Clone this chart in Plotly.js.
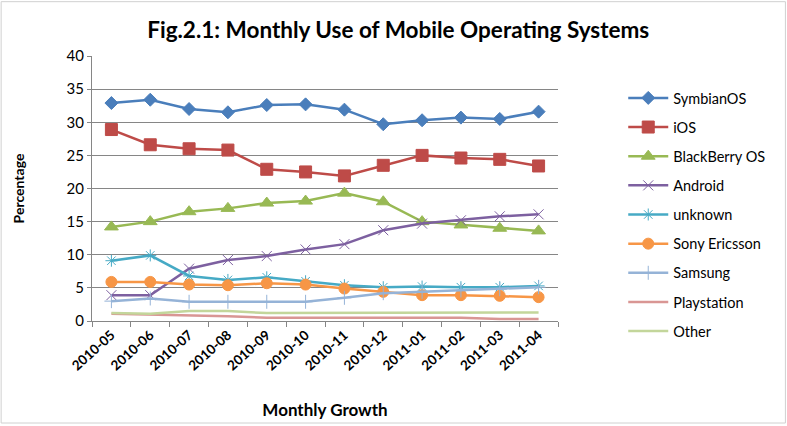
<!DOCTYPE html>
<html>
<head>
<meta charset="utf-8">
<script src="https://cdn.plot.ly/plotly-3.0.1.min.js"></script>
<style>
body{margin:0;background:#fff;}
#chart{width:787px;height:426px;}
</style>
</head>
<body>
<div id="chart"></div>
<script>
// months on the x axis
let months = ["2010-05","2010-06","2010-07","2010-08","2010-09","2010-10",
"2010-11","2010-12","2011-01","2011-02","2011-03","2011-04"];

// percentages
let symbian = [32.9,33.4,32.0,31.5,32.6,32.7,31.9,29.7,30.3,30.7,30.5,31.6];
let ios = [28.9,26.6,26.0,25.8,22.9,22.5,21.9,23.5,25.0,24.6,24.4,23.4];
let blackberry = [14.2,15.0,16.5,17.0,17.8,18.1,19.3,18.0,15.0,14.5,14.0,13.6];
let android = [3.9,3.9,7.9,9.2,9.8,10.8,11.6,13.7,14.7,15.2,15.8,16.1];
let unknown = [9.1,9.9,6.8,6.2,6.6,6.0,5.4,5.1,5.2,5.1,5.1,5.3];
let sonyEricsson = [5.9,5.9,5.5,5.4,5.7,5.5,4.9,4.4,3.9,3.9,3.8,3.6];
let samsung = [3.0,3.4,2.9,2.9,2.9,2.9,3.5,4.2,4.4,4.6,4.8,5.1];
let playstation = [1.1,1.0,0.9,0.7,0.5,0.5,0.5,0.5,0.5,0.5,0.3,0.3];
let other = [1.2,1.1,1.5,1.5,1.2,1.2,1.2,1.2,1.3,1.3,1.2,1.3];

let series = [
{name:"SymbianOS", y:symbian, color:"#4a7ebb", symbol:"diamond", size:10},
{name:"iOS", y:ios, color:"#be4b48", symbol:"square", size:12},
{name:"BlackBerry OS", y:blackberry, color:"#98b954", symbol:"triangle-up", size:12},
{name:"Android", y:android, color:"#7d60a0", symbol:"x-thin-open", size:10},
{name:"unknown", y:unknown, color:"#46aac5", symbol:"asterisk-open", size:10},
{name:"Sony Ericsson", y:sonyEricsson, color:"#f79646", symbol:"circle", size:11},
{name:"Samsung", y:samsung, color:"#95b3d7", symbol:"cross-thin-open", size:10},
{name:"Playstation", y:playstation, color:"#d99694", symbol:null, size:0},
{name:"Other", y:other, color:"#c3d69b", symbol:null, size:0}
];

let traces = series.map(function(s, i){
let t = {
x: months,
y: s.y,
name: s.name,
legendgroup: "g" + i,
type: "scatter",
mode: s.symbol ? "lines+markers" : "lines",
line: {color: s.color, width: 2.5}
};
if(s.symbol){
t.marker = {symbol: s.symbol, size: s.size, color: s.color,
line: {color: s.color, width: 1}};
}
return t;
});

let layout = {
width: 787,
height: 426,
margin: {l:92, r:229, t:56, b:105},
paper_bgcolor: "#fff",
plot_bgcolor: "#fff",
font: {family: "Lato, 'Open Sans', sans-serif", color: "#000"},
title: {
text: "<b>Fig.2.1: Monthly Use of Mobile Operating Systems</b>",
font: {size: 22.5, family: "Lato, sans-serif"},
x: 0.506, xref: "container", y: 0.947, yref: "container"
},
xaxis: {
type: "category",
range: [-0.5, 11.5],
tickangle: -42,
tickfont: {size: 13.5, family: "Lato, sans-serif", weight: "bold"},
ticks: "outside",
tickson: "boundaries",
ticklen: 5,
tickcolor: "#868686",
showline: true,
linecolor: "#868686",
showgrid: false,
title: {text: "<b>Monthly Growth</b>", font: {size: 17}, standoff: 31}
},
yaxis: {
range: [0, 40],
dtick: 5,
tickfont: {size: 15},
ticks: "outside",
ticklen: 4,
tickcolor: "#868686",
showline: true,
linecolor: "#868686",
showgrid: true,
gridcolor: "#868686",
gridwidth: 1,
zeroline: false,
title: {text: "<b>Percentage</b>", font: {size: 14}, standoff: 38}
},
legend: {
x: 1.14, xanchor: "left",
y: 0.902, yanchor: "top",
font: {size: 14.5},
tracegroupgap: 7.3,
itemwidth: 40
},
shapes: [{
type: "rect", xref: "paper", yref: "paper",
x0: -0.195, x1: 1.488, y0: -0.385, y1: 1.205,
line: {color: "#d0d0d0", width: 1}
}],
showlegend: true
};

Plotly.newPlot("chart", traces, layout, {staticPlot: true});
</script>
</body>
</html>
